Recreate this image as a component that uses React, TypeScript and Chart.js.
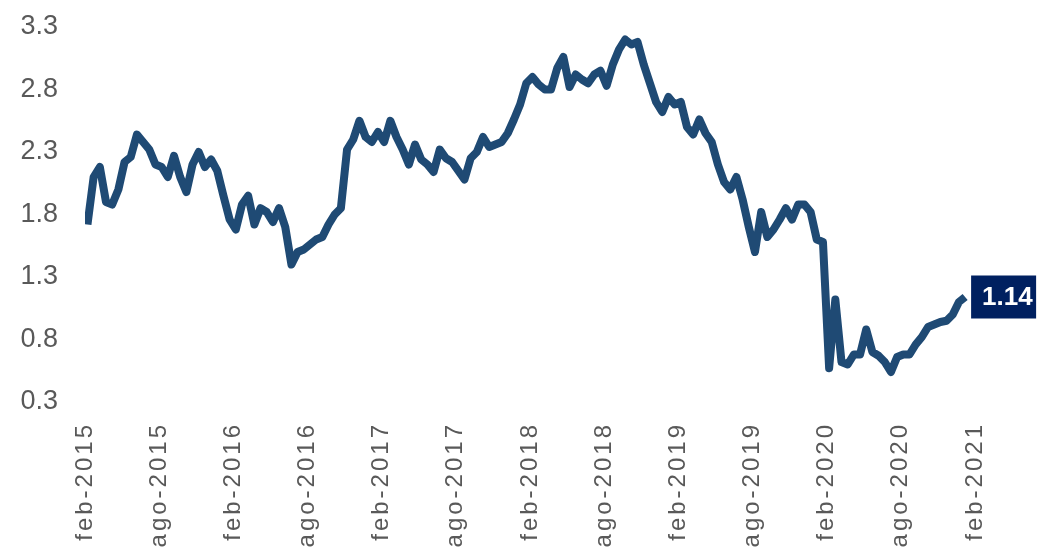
import { useEffect, useRef } from "react";
import { Chart, registerables } from "chart.js";

Chart.register(...registerables);

// Tick labels on the x axis (every six months)
const tickLabels = [
  "feb-2015", "ago-2015", "feb-2016", "ago-2016", "feb-2017", "ago-2017",
  "feb-2018", "ago-2018", "feb-2019", "ago-2019", "feb-2020", "ago-2020", "feb-2021",
];

// Y axis ticks
const yTicks = [0.3, 0.8, 1.3, 1.8, 2.3, 2.8, 3.3];

// Series values, one every half month starting in early Feb 2015
const values = [
  1.72, 2.1, 2.18, 1.9, 1.88, 2.0, 2.22, 2.26, 2.44, 2.38,
  2.32, 2.2, 2.18, 2.1, 2.27, 2.1, 1.98, 2.2, 2.3, 2.18,
  2.24, 2.15, 1.95, 1.76, 1.68, 1.88, 1.95, 1.72, 1.85, 1.82,
  1.74, 1.85, 1.7, 1.4, 1.5, 1.52, 1.56, 1.6, 1.62, 1.72,
  1.8, 1.85, 2.32, 2.4, 2.55, 2.42, 2.38, 2.46, 2.38, 2.55,
  2.42, 2.32, 2.2, 2.36, 2.24, 2.2, 2.14, 2.32, 2.25, 2.22,
  2.15, 2.08, 2.25, 2.3, 2.42, 2.34, 2.36, 2.38, 2.45, 2.56,
  2.68, 2.85, 2.9, 2.84, 2.8, 2.8, 2.97, 3.06, 2.82, 2.92,
  2.88, 2.85, 2.92, 2.95, 2.83, 3.0, 3.12, 3.2, 3.16, 3.18,
  3.0, 2.85, 2.7, 2.62, 2.74, 2.68, 2.7, 2.5, 2.44, 2.56,
  2.45, 2.38, 2.2, 2.06, 2.0, 2.1, 1.92, 1.7, 1.5, 1.82,
  1.62, 1.68, 1.76, 1.85, 1.76, 1.88, 1.88, 1.82, 1.6, 1.58,
  0.57, 1.12, 0.62, 0.6, 0.68, 0.68, 0.88, 0.7, 0.67, 0.62,
  0.54, 0.66, 0.68, 0.68, 0.76, 0.82, 0.9, 0.92, 0.94, 0.95,
  1.0, 1.1, 1.14,
];

const lastLabel = "1.14";

const FONT = '"Liberation Sans", Arial, Helvetica, sans-serif';
const LINE_COLOR = "#1F4A74";
const BOX_COLOR = "#002060";
const TEXT_COLOR = "#595959";

export default function App() {
  const ref = useRef<HTMLCanvasElement | null>(null);

  useEffect(() => {
    if (!ref.current) return;
    const data = values.map((v, i) => ({ x: 0.2 + i * 0.5, y: v }));

    const labelPlugin = {
      id: "lastLabel",
      afterLayout(chart: any) {
        const sx = chart.scales.x;
        if (sx && !sx.__spaced) {
          sx.__spaced = true;
          const orig = sx.drawLabels.bind(sx);
          sx.drawLabels = (area: any) => {
            const ctx = chart.ctx;
            ctx.save();
            ctx.letterSpacing = "3px";
            orig(area);
            ctx.restore();
          };
        }
      },
      afterDatasetsDraw(chart: any) {
        const meta = chart.getDatasetMeta(0);
        const pt = meta.data[meta.data.length - 1];
        if (!pt) return;
        const ctx = chart.ctx;
        ctx.save();
        const x = pt.x + 6;
        const h = 43;
        ctx.fillStyle = BOX_COLOR;
        ctx.fillRect(x, pt.y - h / 2, 65, h);
        ctx.fillStyle = "#ffffff";
        ctx.font = `bold 26px ${FONT}`;
        ctx.textBaseline = "middle";
        ctx.textAlign = "left";
        ctx.fillText(lastLabel, x + 11, pt.y + 1);
        ctx.restore();
      },
    };

    const chart = new Chart(ref.current, {
      type: "line",
      data: {
        datasets: [
          {
            data,
            borderColor: LINE_COLOR,
            borderWidth: 8,
            borderJoinStyle: "round",
            pointRadius: 0,
            tension: 0,
            fill: false,
          },
        ],
      },
      options: {
        animation: false,
        responsive: true,
        maintainAspectRatio: false,
        layout: { padding: { left: 20, right: 65, top: 27, bottom: 0 } },
        plugins: { legend: { display: false }, tooltip: { enabled: false } },
        scales: {
          x: {
            type: "linear",
            min: 0,
            max: 72,
            grid: { display: false, drawTicks: false },
            border: { display: false },
            afterFit: (s: any) => {
              s.height = 145;
              s.paddingLeft = 0;
              s.paddingRight = 0;
            },
            ticks: {
              stepSize: 6,
              autoSkip: false,
              minRotation: 90,
              maxRotation: 90,
              padding: 20,
              color: TEXT_COLOR,
              font: { size: 24, family: FONT },
              callback: (v: any) => tickLabels[Math.round(Number(v) / 6)],
            },
          },
          y: {
            type: "linear",
            min: 0.3,
            max: 3.3,
            grid: { display: false, drawTicks: false },
            border: { display: false },
            afterBuildTicks: (s: any) => {
              s.ticks = yTicks.map((v) => ({ value: v }));
            },
            afterFit: (s: any) => {
              s.width = 65;
              s.paddingTop = 0;
              s.paddingBottom = 0;
            },
            ticks: {
              padding: 27,
              color: TEXT_COLOR,
              font: { size: 27, family: FONT },
              callback: (v: any) => Number(v).toFixed(1),
            },
          },
        },
      },
      plugins: [labelPlugin],
    } as any);

    return () => chart.destroy();
  }, []);

  return (
    <div
      style={{
        position: "fixed",
        left: 0,
        top: 0,
        width: 1040,
        height: 547,
        background: "#ffffff",
      }}
    >
      <canvas ref={ref} />
    </div>
  );
}
